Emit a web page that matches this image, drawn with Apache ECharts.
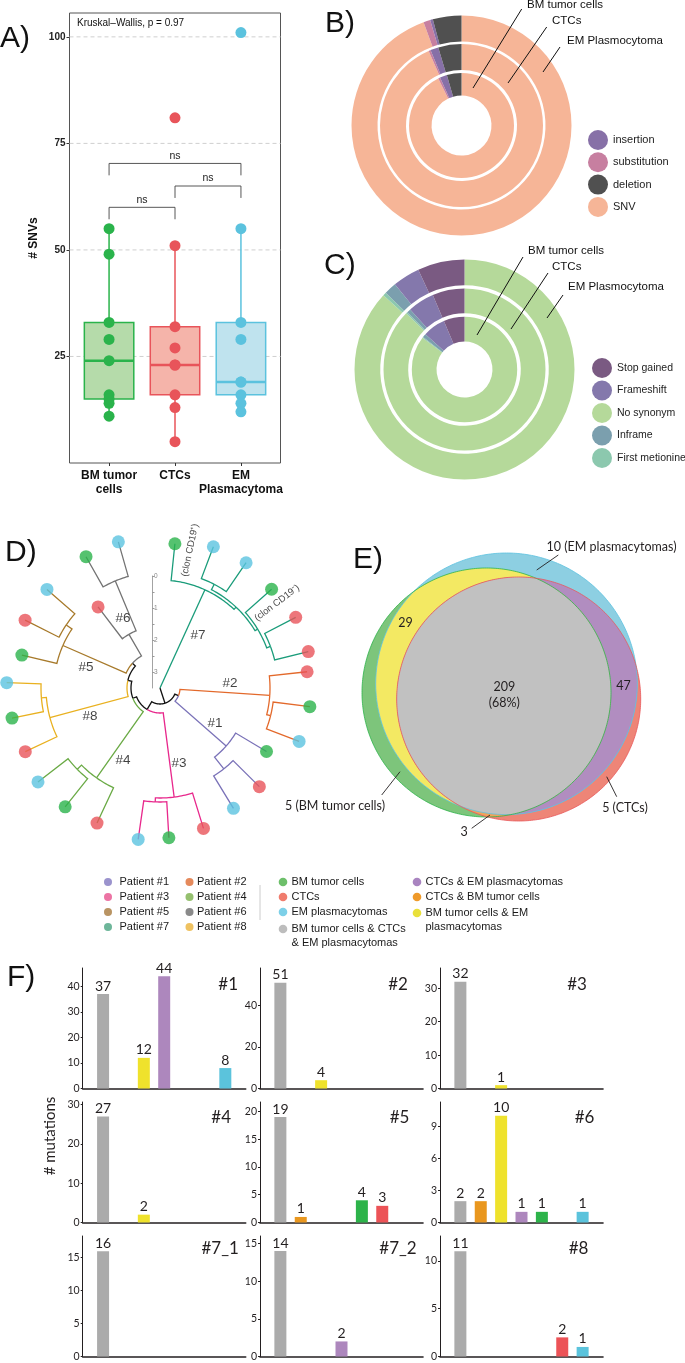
<!DOCTYPE html>
<html><head><meta charset="utf-8">
<script src="https://cdn.jsdelivr.net/npm/echarts@6/dist/echarts.min.js"></script>
<style>html,body{margin:0;padding:0;background:#fff}#c{width:685px;height:1363px}</style>
</head><body><div id="c"></div>
<script>
// ================= DATA =================
// Panel A: # SNVs per sample type
const aGroups = ['BM tumor\ncells', 'CTCs', 'EM\nPlasmacytoma'];
const aBM  = [55, 49, 33, 29, 24, 16, 15, 14, 11];
const aCTC = [81, 51, 32, 27, 23, 23, 16, 13, 5];
const aEM  = [101, 55, 33, 29, 19, 19, 16, 14, 12];
const aTicks = [25, 50, 75, 100];
const aBrackets = [[1, 2, 60, 'ns'], [2, 3, 65, 'ns'], [1, 3, 70.3, 'ns']];
const aTest = 'Kruskal\u2013Wallis, p = 0.97';

// Panel B: variant type (%), rings: BM (inner), CTCs, EM (outer); clockwise from top
const bTypes = ['SNV', 'substitution', 'insertion', 'deletion'];
const bBM  = [92.7, 0.6, 2.2, 4.5];
const bCTC = [93.4, 0.4, 1.6, 4.6];
const bEM  = [94.4, 1.0, 0.4, 4.2];
const bLegend = ['insertion', 'substitution', 'deletion', 'SNV'];

// Panel C: consequence (%)
const cTypes = ['No synonym', 'First metionine', 'Inframe', 'Frameshift', 'Stop gained'];
const cBM  = [85.3, 0.3, 1.1, 6.9, 6.4];
const cCTC = [87.2, 0.3, 0.8, 5.3, 6.4];
const cEM  = [86.8, 0.5, 1.8, 4.0, 6.9];
const cLegend = ['Stop gained', 'Frameshift', 'No synonym', 'Inframe', 'First metionine'];
const ringLabels = ['BM tumor cells', 'CTCs', 'EM Plasmocytoma'];

// Panel D: tree [name, parent, radius (branch end), leaf angle, patient, sample]
const treeNodes = [
  ['root', null, 0, null, 0, null],
  ['P7', 'root', 108, null, 7, null],
  ['L7a', 'P7', 145, 5.9, 7, 'BM'],
  ['X7', 'P7', 111, null, 7, null],
  ['Y7', 'X7', 117, null, 7, null],
  ['L7b', 'Y7', 151, 20.7, 7, 'EM'],
  ['L7c', 'Y7', 152, 34.5, 7, 'EM'],
  ['Z7', 'X7', 114, null, 7, null],
  ['L7d', 'Z7', 149, 48.5, 7, 'BM'],
  ['W7', 'Z7', 118, null, 7, null],
  ['L7e', 'W7', 153, 62.5, 7, 'CTC'],
  ['L7f', 'W7', 152.7, 76.2, 7, 'CTC'],
  ['A', 'root', 16, null, 0, null],
  ['B', 'A', 20, null, 0, null],
  ['P2', 'B', 110, null, 2, null],
  ['L2a', 'P2', 148, 83.7, 2, 'CTC'],
  ['Q2', 'P2', 114, null, 2, null],
  ['L2b', 'Q2', 151, 97.1, 2, 'BM'],
  ['L2c', 'Q2', 149, 111, 2, 'EM'],
  ['P1', 'B', 88, null, 1, null],
  ['L1a', 'P1', 124, 120.8, 1, 'BM'],
  ['R1', 'P1', 103, null, 1, null],
  ['L1b', 'R1', 140, 134.8, 1, 'CTC'],
  ['L1c', 'R1', 141, 148.6, 1, 'EM'],
  ['C', 'A', 25, null, 0, null],
  ['P3', 'C', 110, null, 3, null],
  ['L3a', 'P3', 147, 162.8, 3, 'CTC'],
  ['S3', 'P3', 114, null, 3, null],
  ['L3b', 'S3', 150, 176.6, 3, 'BM'],
  ['L3c', 'S3', 153, 188.2, 3, 'EM'],
  ['D', 'C', 29, null, 0, null],
  ['P4', 'D', 110, null, 4, null],
  ['L4a', 'P4', 149, 205, 4, 'CTC'],
  ['T4', 'P4', 116, null, 4, null],
  ['L4b', 'T4', 152, 218.6, 4, 'BM'],
  ['L4c', 'T4', 154, 232.4, 4, 'EM'],
  ['E', 'D', 33, null, 0, null],
  ['P8', 'E', 114, null, 8, null],
  ['L8a', 'P8', 149, 244.7, 8, 'CTC'],
  ['U8', 'P8', 119, null, 8, null],
  ['L8b', 'U8', 151, 258.5, 8, 'BM'],
  ['L8c', 'U8', 153.4, 272, 8, 'EM'],
  ['F', 'E', 37, null, 0, null],
  ['P5', 'F', 106, null, 5, null],
  ['L5a', 'P5', 142, 283.4, 5, 'BM'],
  ['V5', 'P5', 113, null, 5, null],
  ['L5b', 'V5', 151, 296.7, 5, 'CTC'],
  ['L5c', 'V5', 150, 311.1, 5, 'EM'],
  ['P6', 'F', 62, null, 6, null],
  ['L6a', 'P6', 102, 322.6, 6, 'CTC'],
  ['W6', 'P6', 116, null, 6, null],
  ['L6b', 'W6', 150.7, 330.6, 6, 'BM'],
  ['L6c', 'W6', 152, 344.1, 6, 'EM']
];
const cladeLabels = [['#7', 65.2, 35.6], ['#2', 70.2, 85.9], ['#1', 65.2, 122.5], ['#3', 77.4, 165.8],
  ['#4', 81, 207.2], ['#8', 75.4, 248.2], ['#5', 77, 285.8], ['#6', 79.2, 332.1]];
const cloneLabels = [['(clon CD19\u207A)', 141, 12.3, 78], ['(clon CD19\u207B)', 144.6, 54, 37]];
const scaleTicks = [0, 1, 2, 3];
const scaleMinor = [0, 0.5, 1, 1.5, 2, 2.5, 3];

// Panel E: shared mutations (Venn)
const vennSetNames = ['BM tumor cells', 'CTCs', 'EM plasmacytomas'];
const vennCircles = [[131.5, 147.5, 124.5], [163.7, 154, 122], [151.5, 138.8, 130.8]];
const vennCounts = { all: 209, bmEm: 29, ctcEm: 47, em: 10, bm: 5, ctc: 5, bmCtc: 3 };

// Panel F: mutations per patient
const fCategories = ['BM tumor cells & CTCs & EM plasmacytomas', 'CTCs & BM tumor cells', 'BM tumor cells & EM plasmacytomas',
  'CTCs & EM plasmacytomas', 'BM tumor cells', 'CTCs', 'EM plasmacytomas'];
const fPatients = ['#1', '#2', '#3', '#4', '#5', '#6', '#7_1', '#7_2', '#8'];
const fValues = [
  [37, null, 12, 44, null, null, 8],
  [51, null, 4, null, null, null, null],
  [32, null, 1, null, null, null, null],
  [27, null, 2, null, null, null, null],
  [19, 1, null, null, 4, 3, null],
  [2, 2, 10, 1, 1, null, 1],
  [16, null, null, null, null, null, null],
  [14, null, null, 2, null, null, null],
  [11, null, null, null, null, 2, 1]
];
const fAxisMax = [47.2, 58.1, 36.1, 30.7, 21.7, 11.3, 18.3, 16.0, 12.6];
const fTickStep = [10, 20, 10, 10, 5, 3, 5, 5, 5];

// Legend below D/E
const patientLegend = [['Patient #1', '#9b93cd'], ['Patient #2', '#e58a5c'], ['Patient #3', '#ec74a4'], ['Patient #4', '#95c06f'],
  ['Patient #5', '#b99463'], ['Patient #6', '#8a8a8a'], ['Patient #7', '#6eb69a'], ['Patient #8', '#efc261']];
const sampleLegend = [['BM tumor cells', '#6dbf6a'], ['CTCs', '#f07c6d'], ['EM plasmacytomas', '#7dd0e8'],
  ['BM tumor cells & CTCs\n& EM plasmacytomas', '#bdbdbd']];
const sharedLegend = [['CTCs & EM plasmacytomas', '#a984c0'], ['CTCs & BM tumor cells', '#ef9a2a'],
  ['BM tumor cells & EM\nplasmacytomas', '#e9e03a']];

// ================= STYLES =================
const aStroke = ['#2ab34b', '#e8545a', '#5bc2de'];
const aFill = ['#b5dbaa', '#f5b4aa', '#bfe3ee'];
const bColors = ['#f6b597', '#c77fa0', '#8770a7', '#505050'];
const cColors = ['#b5d99a', '#8cc8ae', '#7b9fae', '#8478ac', '#7a5a82'];
const sampleColors = { BM: '#2ab34b', CTC: '#e8545a', EM: '#5bc3e0' };
const patientLineColors = ['#111111', '#7a72b8', '#e3692b', '#e8288c', '#6aaa45', '#a77a2b', '#737373', '#1a9c7a', '#e9b120'];
const fColors = ['#ababab', '#e9971f', '#efe22c', '#ad87bd', '#2db34a', '#ec5357', '#5bc3dc'];
const SANS = 'Liberation Sans, Arial, sans-serif';
const MYR = 'Lato, sans-serif';

// ================= HELPERS =================
function q7(s, p) { const h = (s.length - 1) * p, lo = Math.floor(h); return lo + 1 < s.length ? s[lo] + (h - lo) * (s[lo + 1] - s[lo]) : s[lo]; }
function boxStats(arr) {
  const s = arr.slice().sort((a, b) => a - b);
  const q1 = q7(s, 0.25), md = q7(s, 0.5), q3 = q7(s, 0.75), iqr = q3 - q1;
  const lo = Math.min(...s.filter(v => v >= q1 - 1.5 * iqr)), hi = Math.max(...s.filter(v => v <= q3 + 1.5 * iqr));
  return [q1, md, q3, lo, hi];
}
const aSets = [aBM, aCTC, aEM];
const aStats = aSets.map((a, i) => [i + 1].concat(boxStats(a)));

// tree layout (angles of internal nodes = midpoint of outer children)
const nodes = treeNodes.map(t => ({ name: t[0], parent: t[1], r: t[2], angle: t[3], patient: t[4], sample: t[5], children: [] }));
const nodeMap = {};
nodes.forEach(n => nodeMap[n.name] = n);
nodes.forEach(n => { if (n.parent) nodeMap[n.parent].children.push(n); });
for (let i = nodes.length - 1; i >= 0; i--) {
  const n = nodes[i];
  if (n.angle == null) { const c = n.children; n.angle = (c[0].angle + c[c.length - 1].angle) / 2; }
}
const treeEdges = nodes.filter(n => n.parent).map(n => {
  const p = nodeMap[n.parent];
  return { pR: p.r, pA: p.angle, r: n.r, a: n.angle, color: patientLineColors[n.patient] };
});
const treeLeaves = nodes.filter(n => n.sample);

// venn
function exitDist(p, d, c) {
  const ox = p[0] - c[0], oy = p[1] - c[1];
  const b = d[0] * ox + d[1] * oy, q = ox * ox + oy * oy - c[2] * c[2];
  return -b + Math.sqrt(b * b - q);
}
function regionPoly(sets) {
  const cs = sets.map(i => vennCircles[i]);
  const p = [cs.reduce((s, c) => s + c[0], 0) / cs.length, cs.reduce((s, c) => s + c[1], 0) / cs.length];
  const pts = [];
  for (let k = 0; k < 360; k++) {
    const th = k * Math.PI / 180, d = [Math.cos(th), Math.sin(th)];
    const t = Math.min(...cs.map(c => exitDist(p, d, c)));
    pts.push([p[0] + t * d[0], p[1] + t * d[1]]);
  }
  return pts;
}
const vennLayers = [
  { sets: [0], fill: '#7dc57b' }, { sets: [1], fill: '#ee8577' }, { sets: [2], fill: '#8dcfe2' },
  { sets: [0, 2], fill: '#f3e963' }, { sets: [1, 2], fill: '#b18dc0' }, { sets: [0, 1], fill: '#f0a35a' },
  { sets: [0, 1, 2], fill: '#c1c1c1' },
  { sets: [2], stroke: '#5cc2df' }, { sets: [0], stroke: '#2db34a' }, { sets: [1], stroke: '#e9585a' }
];
const vTotal = Object.values(vennCounts).reduce((a, b) => a + b, 0);
const vennLabels = [
  [vennCounts.all + '\n(' + Math.round(vennCounts.all / vTotal * 100) + '%)', 149.3, 150, 'center'],
  [String(vennCounts.bmEm), 50.5, 77.5, 'center'],
  [String(vennCounts.ctcEm), 268.5, 140.5, 'center'],
  [vennCounts.em + ' (' + vennSetNames[2] + ')', 256.5, 1.7, 'center'],
  [vennCounts.bm + ' (' + vennSetNames[0] + ')', -20, 261, 'center'],
  [vennCounts.ctc + ' (' + vennSetNames[1] + ')', 270, 263, 'center'],
  [String(vennCounts.bmCtc), 109, 287, 'center']
];
const vennLeaders = [[203.3, 10, 181.7, 25], [26.7, 250, 45, 226.7], [261.7, 251.7, 251.7, 231.7], [116.7, 283.3, 135, 270]];

// ================= OPTION =================
const grids = [], xAxes = [], yAxes = [], series = [];

// --- A ---
grids.push({ left: 69.5, top: 13, width: 211, height: 450, show: true, borderColor: '#555', borderWidth: 1 });
xAxes.push({ gridIndex: 0, type: 'value', min: 0.4, max: 3.6, axisLine: { show: false }, splitLine: { show: false },
  axisTick: { show: true, customValues: [1, 2, 3], length: 3, lineStyle: { color: '#333' } },
  axisLabel: { customValues: [1, 2, 3], formatter: v => aGroups[Math.round(v) - 1], fontWeight: 'bold', fontSize: 12,
    color: '#111', margin: 6, lineHeight: 14, fontFamily: SANS } });
yAxes.push({ gridIndex: 0, type: 'value', min: 0, max: 105.6, axisLine: { show: false }, splitLine: { show: false },
  axisTick: { show: true, customValues: aTicks, length: 3, lineStyle: { color: '#333' } },
  axisLabel: { customValues: aTicks, fontWeight: 'bold', fontSize: 10, color: '#222', margin: 4, fontFamily: SANS },
  name: '# SNVs', nameLocation: 'middle', nameGap: 30, nameTextStyle: { fontWeight: 'bold', fontSize: 12, color: '#111', fontFamily: SANS } });
series.push({ type: 'custom', xAxisIndex: 0, yAxisIndex: 0, z: 1, silent: true, data: aTicks.map(v => [1, v]),
  renderItem: (p, api) => { const y = api.value(1); const p1 = api.coord([0.4, y]), p2 = api.coord([3.6, y]);
    return { type: 'line', shape: { x1: p1[0], y1: p1[1], x2: p2[0], y2: p2[1] }, style: { stroke: '#cfcfcf', lineWidth: 1, lineDash: [4, 3] } }; } });
series.push({ type: 'custom', xAxisIndex: 0, yAxisIndex: 0, z: 2, silent: true, data: aStats,
  renderItem: (params, api) => {
    const i = params.dataIndex, x = api.value(0);
    const q1 = api.coord([x, api.value(1)]), md = api.coord([x, api.value(2)]), q3 = api.coord([x, api.value(3)]),
      lo = api.coord([x, api.value(4)]), hi = api.coord([x, api.value(5)]);
    const hw = api.size([0.75, 0])[0] / 2, c = aStroke[i], f = aFill[i];
    return { type: 'group', children: [
      { type: 'line', shape: { x1: hi[0], y1: hi[1], x2: q3[0], y2: q3[1] }, style: { stroke: c, lineWidth: 1.5 } },
      { type: 'line', shape: { x1: q1[0], y1: q1[1], x2: lo[0], y2: lo[1] }, style: { stroke: c, lineWidth: 1.5 } },
      { type: 'rect', shape: { x: q3[0] - hw, y: q3[1], width: 2 * hw, height: q1[1] - q3[1] }, style: { fill: f, stroke: c, lineWidth: 1.5 } },
      { type: 'line', shape: { x1: md[0] - hw, y1: md[1], x2: md[0] + hw, y2: md[1] }, style: { stroke: c, lineWidth: 2.6 } }
    ] };
  } });
aSets.forEach((arr, i) => series.push({ type: 'scatter', xAxisIndex: 0, yAxisIndex: 0, z: 3, silent: true, symbolSize: 11,
  itemStyle: { color: aStroke[i], opacity: 1 }, data: arr.map(v => [i + 1, v]) }));
series.push({ type: 'custom', xAxisIndex: 0, yAxisIndex: 0, z: 3, silent: true, data: aBrackets.map(b => [b[0], b[2], b[1]]),
  renderItem: (params, api) => {
    const x1 = api.value(0), y = api.value(1), x2 = api.value(2), drop = 2.8;
    const a = api.coord([x1, y - drop]), b = api.coord([x1, y]), c = api.coord([x2, y]), d = api.coord([x2, y - drop]);
    return { type: 'group', children: [
      { type: 'polyline', shape: { points: [a, b, c, d] }, style: { stroke: '#444', lineWidth: 0.9, fill: null } },
      { type: 'text', style: { text: aBrackets[params.dataIndex][3], x: (b[0] + c[0]) / 2, y: b[1] - 2, align: 'center', verticalAlign: 'bottom', fontSize: 10.5, fill: '#222', fontFamily: SANS } }
    ] };
  } });

// --- B / C pies ---
const bRadii = [[30, 52.5], [55.5, 81.5], [84, 110]];
[bBM, bCTC, bEM].forEach((vals, k) => series.push({ type: 'pie', center: [461.5, 125.5], radius: bRadii[k], startAngle: 90, clockwise: true,
  silent: true, label: { show: false }, labelLine: { show: false }, emphasis: { disabled: true },
  data: bTypes.map((n, j) => ({ name: n, value: vals[j], itemStyle: { color: bColors[j] } })) }));
const cRadii = [[28, 52.7], [56.3, 81], [84.3, 110]];
[cBM, cCTC, cEM].forEach((vals, k) => series.push({ type: 'pie', center: [464.5, 369.5], radius: cRadii[k], startAngle: 90, clockwise: true,
  silent: true, label: { show: false }, labelLine: { show: false }, emphasis: { disabled: true },
  data: cTypes.map((n, j) => ({ name: n, value: vals[j], itemStyle: { color: cColors[j] } })) }));

// --- D tree (polar) ---
series.push({ type: 'custom', coordinateSystem: 'polar', polarIndex: 0, z: 2, silent: true,
  data: treeEdges.map((e, i) => [e.r, e.a, i]),
  renderItem: (params, api) => {
    const e = treeEdges[params.dataIndex], pts = [];
    const n = Math.max(1, Math.ceil(Math.abs(e.a - e.pA)));
    for (let k = 0; k <= n; k++) pts.push(api.coord([e.pR, e.pA + (e.a - e.pA) * k / n]));
    pts.push(api.coord([e.r, e.a]));
    return { type: 'polyline', shape: { points: pts }, style: { stroke: e.color, lineWidth: 1.3, fill: null } };
  } });
series.push({ type: 'scatter', coordinateSystem: 'polar', polarIndex: 0, z: 3, silent: true, symbolSize: 13,
  data: treeLeaves.map(l => ({ value: [l.r, l.angle], itemStyle: { color: sampleColors[l.sample] } })) });
series.push({ type: 'scatter', coordinateSystem: 'polar', polarIndex: 0, z: 4, silent: true, symbolSize: 1,
  itemStyle: { color: 'rgba(0,0,0,0)' },
  data: cladeLabels.map(c => ({ value: [c[1], c[2]], name: c[0] })),
  label: { show: true, position: 'inside', formatter: '{b}', fontSize: 13.5, color: '#111', fontFamily: SANS } });
series.push({ type: 'scatter', coordinateSystem: 'polar', polarIndex: 0, z: 4, silent: true, symbolSize: 1,
  itemStyle: { color: 'rgba(0,0,0,0)' },
  data: cloneLabels.map(c => ({ value: [c[1], c[2]], name: c[0], label: { rotate: c[3] } })),
  label: { show: true, position: 'inside', formatter: '{b}', fontSize: 9.5, color: '#111', fontFamily: SANS } });
// scale bar
grids.push({ left: 150, top: 576, width: 2, height: 112 });
xAxes.push({ gridIndex: 1, type: 'value', min: 0, max: 1, show: false });
yAxes.push({ gridIndex: 1, type: 'value', position: 'right', min: 0, max: 3.5, inverse: true,
  axisLine: { show: true, onZero: false, lineStyle: { color: '#999', width: 0.9 } },
  axisTick: { show: true, customValues: scaleMinor, length: 2.5, lineStyle: { color: '#999' } },
  axisLabel: { customValues: scaleTicks, fontSize: 6.5, color: '#888', margin: 2, fontFamily: SANS }, splitLine: { show: false } });

// --- E venn ---
grids.push({ left: 355, top: 545, width: 290, height: 290 });
xAxes.push({ gridIndex: 2, type: 'value', min: 0, max: 290, show: false });
yAxes.push({ gridIndex: 2, type: 'value', min: 0, max: 290, inverse: true, show: false });
series.push({ type: 'custom', xAxisIndex: 2, yAxisIndex: 2, z: 2, silent: true, clip: false,
  data: vennLayers.map((l, i) => [0, 0, i]),
  renderItem: (params, api) => {
    const l = vennLayers[params.dataIndex];
    const pts = regionPoly(l.sets).map(p => api.coord(p));
    return { type: 'polygon', shape: { points: pts },
      style: l.fill ? { fill: l.fill } : { fill: null, stroke: l.stroke, lineWidth: 0.8 } };
  } });
series.push({ type: 'custom', xAxisIndex: 2, yAxisIndex: 2, z: 3, silent: true, clip: false,
  data: vennLabels.map((l, i) => [l[1], l[2], i]),
  renderItem: (params, api) => {
    const i = params.dataIndex, l = vennLabels[i];
    const p = api.coord([l[1], l[2]]);
    const children = [{ type: 'text', style: { text: l[0], x: p[0], y: p[1], align: l[3], verticalAlign: 'middle',
      fontSize: 12.5, lineHeight: 16.5, fill: '#231f20', fontFamily: MYR } }];
    if (i >= 3) {
      const ld = vennLeaders[i - 3], a = api.coord([ld[0], ld[1]]), b = api.coord([ld[2], ld[3]]);
      children.push({ type: 'line', shape: { x1: a[0], y1: a[1], x2: b[0], y2: b[1] }, style: { stroke: '#231f20', lineWidth: 0.9 } });
    }
    return { type: 'group', children };
  } });

// --- F bars ---
const fLefts = [82.7, 260, 440], fTops = [968, 1102, 1236], fW = 163, fH = 120.5;
fPatients.forEach((pname, i) => {
  const gi = 3 + i, col = i % 3, row = Math.floor(i / 3);
  grids.push({ left: fLefts[col], top: fTops[row], width: fW, height: fH });
  xAxes.push({ gridIndex: gi, type: 'value', min: 0, max: 8, axisLine: { show: true, onZero: false, lineStyle: { color: '#231f20', width: 1.6 } },
    axisTick: { show: false }, axisLabel: { show: false }, splitLine: { show: false } });
  const ticks = []; for (let v = 0; v <= fAxisMax[i] + 1e-9; v += fTickStep[i]) ticks.push(v);
  yAxes.push({ gridIndex: gi, type: 'value', min: 0, max: fAxisMax[i], axisLine: { show: true, onZero: false, lineStyle: { color: '#231f20', width: 1 } },
    axisTick: { show: true, customValues: ticks, length: 2, lineStyle: { color: '#231f20' } },
    axisLabel: { customValues: ticks, fontSize: 10.5, color: '#231f20', margin: 3, fontFamily: MYR }, splitLine: { show: false } });
  const data = [];
  fValues[i].forEach((v, j) => { if (v != null) data.push({ value: [j + 1, v], itemStyle: { color: fColors[j] } }); });
  series.push({ type: 'bar', name: pname, xAxisIndex: gi, yAxisIndex: gi, barWidth: 12, silent: true, data,
    label: { show: true, position: 'top', distance: 1, fontSize: 14, color: '#231f20', fontFamily: MYR, formatter: p => p.value[1] } });
});

// --- graphic ---
const G = [];
const T = (x, y, text, o) => G.push({ type: 'text', x, y, z: 100, silent: true,
  style: Object.assign({ text, fill: '#111', fontSize: 12, fontFamily: SANS, align: 'left', verticalAlign: 'middle' }, o || {}) });
const Ln = (x1, y1, x2, y2, stroke, w) => G.push({ type: 'line', z: 100, silent: true, shape: { x1, y1, x2, y2 }, style: { stroke: stroke || '#111', lineWidth: w || 1 } });
const Dot = (cx, cy, r, fill) => G.push({ type: 'circle', z: 100, silent: true, shape: { cx, cy, r }, style: { fill } });

[['A)', 0, 39], ['B)', 325, 24], ['C)', 324, 266], ['D)', 5, 553], ['E)', 353, 560], ['F)', 7, 978]]
  .forEach(p => T(p[1], p[2], p[0], { fontSize: 30 }));
T(77, 23, aTest, { fontSize: 10 });
// ring pointers
[[527, 5, 521.7, 9, 473, 88], [552, 21, 546.7, 27, 508, 83], [567, 41, 560, 47, 543, 72]].forEach((p, k) => {
  T(p[0], p[1], ringLabels[k], { fontSize: 11.5 }); Ln(p[2], p[3], p[4], p[5]);
});
[[528, 251, 523, 257, 477, 335], [552, 267, 548, 273, 511, 329], [568, 287, 563, 295, 547, 318]].forEach((p, k) => {
  T(p[0], p[1], ringLabels[k], { fontSize: 11.5 }); Ln(p[2], p[3], p[4], p[5]);
});
// bottom legend
const rowsY = [882, 897, 912, 927];
patientLegend.forEach((p, k) => {
  const col = k % 2, row = Math.floor(k / 2);
  const dx = col ? 189.5 : 108, tx = col ? 197 : 119.5;
  Dot(dx, rowsY[row], 4, p[1]); T(tx, rowsY[row] - 6.75, p[0], { fontSize: 11, verticalAlign: 'top', lineHeight: 13.5, fill: '#1a1a1a' });
});
Ln(260, 885, 260, 920, '#cccccc', 1);
const sRows = [882, 897, 912, 929];
sampleLegend.forEach((p, k) => { Dot(283, sRows[k], 4.3, p[1]); T(291.5, sRows[k] - 6.75, p[0], { fontSize: 11, verticalAlign: 'top', lineHeight: 13.5, fill: '#1a1a1a' }); });
const shRows = [882, 897, 913];
sharedLegend.forEach((p, k) => { Dot(417, shRows[k], 4.3, p[1]); T(425.5, shRows[k] - 6.75, p[0], { fontSize: 11, verticalAlign: 'top', lineHeight: 14, fill: '#1a1a1a' }); });
// F tags
const fTagDx = [145.5, 138, 137, 138.5, 139.5, 144.5, 137.5, 138, 138.5], fTagDy = [17, 16, 12.3];
fPatients.forEach((p, i) => T(fLefts[i % 3] + fTagDx[i], fTops[Math.floor(i / 3)] + fTagDy[Math.floor(i / 3)], p,
  { fontSize: 17, fontFamily: MYR, align: 'center', fill: '#231f20' }));
G.push({ type: 'text', x: 50, y: 1136, rotation: Math.PI / 2, z: 100, silent: true,
  style: { text: '# mutations', fontSize: 15, fontFamily: MYR, fill: '#231f20', align: 'center', verticalAlign: 'middle' } });

const option = {
  animation: false,
  backgroundColor: '#ffffff',
  textStyle: { fontFamily: SANS },
  grid: grids, xAxis: xAxes, yAxis: yAxes,
  polar: { center: [160, 688], radius: 200 },
  angleAxis: { type: 'value', min: 0, max: 360, startAngle: 90, clockwise: true, show: false },
  radiusAxis: { type: 'value', min: 0, max: 200, show: false },
  legend: [
    { data: bLegend, orient: 'vertical', left: 583, top: 125, itemWidth: 20, itemHeight: 20, itemGap: 2.3, icon: 'circle',
      selectedMode: false, textStyle: { fontSize: 11, color: '#222', fontFamily: SANS } },
    { data: cLegend, orient: 'vertical', left: 587, top: 353, itemWidth: 20, itemHeight: 20, itemGap: 2.5, icon: 'circle',
      selectedMode: false, textStyle: { fontSize: 10.5, color: '#222', fontFamily: SANS } }
  ],
  series,
  graphic: { elements: G }
};
const chart = echarts.init(document.getElementById('c'));
chart.setOption(option);
</script></body></html>
